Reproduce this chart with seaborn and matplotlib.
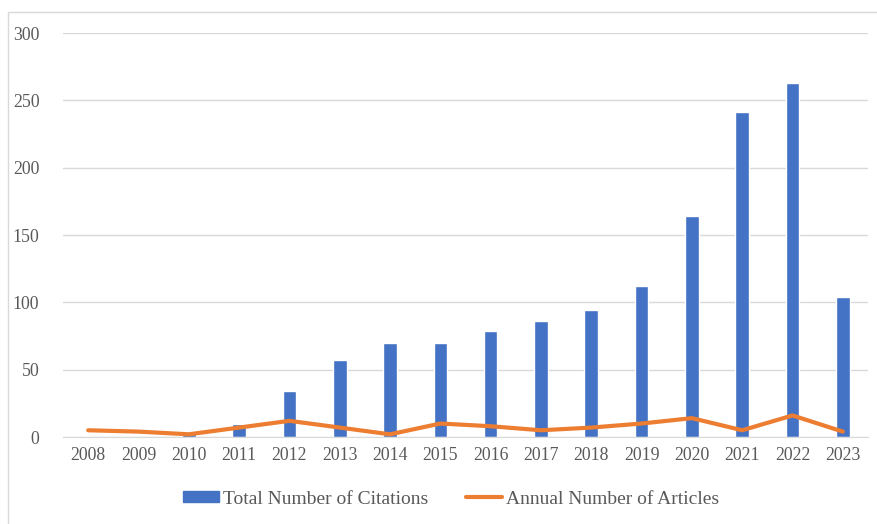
import matplotlib
matplotlib.use("Agg")
import matplotlib.pyplot as plt
import seaborn as sns
import numpy as np
import pandas as pd
from matplotlib.patches import Rectangle
from matplotlib.lines import Line2D

# data
years = ["2008", "2009", "2010", "2011", "2012", "2013", "2014", "2015",
         "2016", "2017", "2018", "2019", "2020", "2021", "2022", "2023"]
citations = [0, 0, 2, 10, 34, 57, 70, 70, 79, 86, 94, 112, 164, 241, 263, 104]
articles = [5, 4, 2, 7, 12, 7, 2, 10, 8, 5, 7, 10, 14, 5, 16, 4]

df = pd.DataFrame({"year": years, "citations": citations, "articles": articles})
df["pos"] = np.arange(len(df))

sns.set_style("white")
plt.rcParams["font.family"] = ["Liberation Serif", "DejaVu Serif"]

blue = "#4472C4"
orange = "#ED7D31"

fig = plt.figure(figsize=(8.77, 5.24), dpi=100)
ax = fig.add_axes([63 / 877, 1 - 437 / 524, 805 / 877, 404 / 524])

sns.barplot(data=df, x="year", y="citations", color=blue, width=0.27,
            saturation=1, ax=ax, zorder=2)
sns.lineplot(data=df, x="pos", y="articles", color=orange, linewidth=3,
             ax=ax, zorder=3)

ax.set_xlim(-0.5, len(years) - 0.5)
ax.set_ylim(0, 300)
ax.set_yticks(range(0, 301, 50))
ax.set_xticks(range(len(years)))
ax.set_xticklabels(years)
ax.yaxis.grid(True, color="#D9D9D9", linewidth=1)
ax.set_axisbelow(True)
for s in ["top", "right", "left"]:
    ax.spines[s].set_visible(False)
ax.spines["bottom"].set_color("#D9D9D9")
ax.tick_params(axis="both", length=0, labelsize=12.8, labelcolor="#595959")
ax.tick_params(axis="y", pad=17)
ax.tick_params(axis="x", pad=7)
ax.set_xlabel("")
ax.set_ylabel("")

handles = [Rectangle((0, 0), 1, 1, color=blue),
           Line2D([0], [0], color=orange, linewidth=3)]
fig.legend(handles, ["Total Number of Citations", "Annual Number of Articles"],
           loc="center", bbox_to_anchor=(451 / 877, 1 - 499 / 524), ncol=2,
           frameon=False, fontsize=14, labelcolor="#595959",
           handlelength=1.85, handleheight=0.46, handletextpad=0.2,
           columnspacing=1.95)

# outer frame
fig.patches.append(Rectangle((8 / 877, -0.01), 1, 1 - 12 / 524 + 0.01,
                             transform=fig.transFigure, fill=False,
                             edgecolor="#D9D9D9", linewidth=1))

plt.savefig("out.png", dpi=100)
